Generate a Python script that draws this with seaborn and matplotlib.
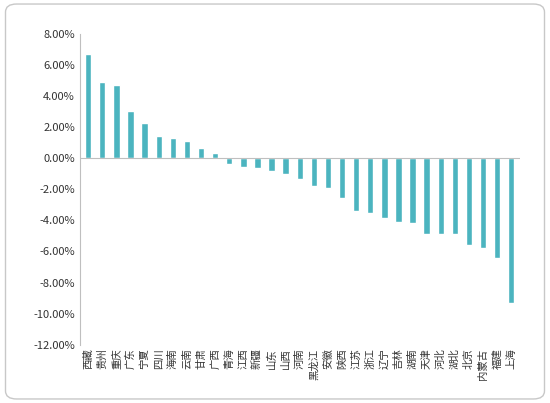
import matplotlib
matplotlib.use("Agg")
import matplotlib.pyplot as plt
import seaborn as sns
from matplotlib.patches import FancyBboxPatch

provinces = ["西藏", "贵州", "重庆", "广东", "宁夏", "四川", "海南", "云南", "甘肃", "广西",
             "青海", "江西", "新疆", "山东", "山西", "河南", "黑龙江", "安徽", "陕西", "江苏",
             "浙江", "辽宁", "吉林", "湖南", "天津", "河北", "湖北", "北京", "内蒙古", "福建", "上海"]
values = [6.7, 4.9, 4.75, 3.05, 2.3, 1.45, 1.3, 1.1, 0.7, 0.35,
          -0.35, -0.55, -0.65, -0.8, -1.0, -1.35, -1.75, -1.9, -2.55, -3.4,
          -3.5, -3.85, -4.1, -4.15, -4.85, -4.85, -4.9, -5.6, -5.8, -6.45, -9.3]

sns.set_style("white")
plt.rcParams['font.family'] = ['Noto Sans CJK SC', 'DejaVu Sans']

fig = plt.figure(figsize=(5.5, 4.03), dpi=100)
ax = fig.add_axes([0.145, 0.145, 0.8, 0.77])
sns.barplot(x=list(range(len(values))), y=values, color="#4BB4BF", saturation=1, width=0.45, ax=ax)

ax.set_ylim(-12, 8)
ax.set_yticks(range(-12, 9, 2))
ax.set_yticklabels([f"{v:.2f}%" for v in range(-12, 9, 2)], fontsize=8, color="#333333")
ax.set_xticks(range(len(provinces)))
ax.set_xticklabels(provinces, fontsize=7.5, color="#333333", rotation=90, va="top")
ax.tick_params(axis="x", length=0, pad=3)
ax.tick_params(axis="y", length=0)
ax.set_xlim(-0.6, len(values) - 0.4)
for s in ["top", "right", "bottom"]:
    ax.spines[s].set_visible(False)
ax.spines["left"].set_color("#bfbfbf")
ax.axhline(0, color="#bfbfbf", lw=0.8)

fig.patches.append(FancyBboxPatch((0.01, 0.01), 0.98, 0.98, boxstyle="round,pad=0,rounding_size=0.02",
                                  transform=fig.transFigure, fill=False, ec="#c8c8c8", lw=1))
fig.savefig("out.png", dpi=100)
